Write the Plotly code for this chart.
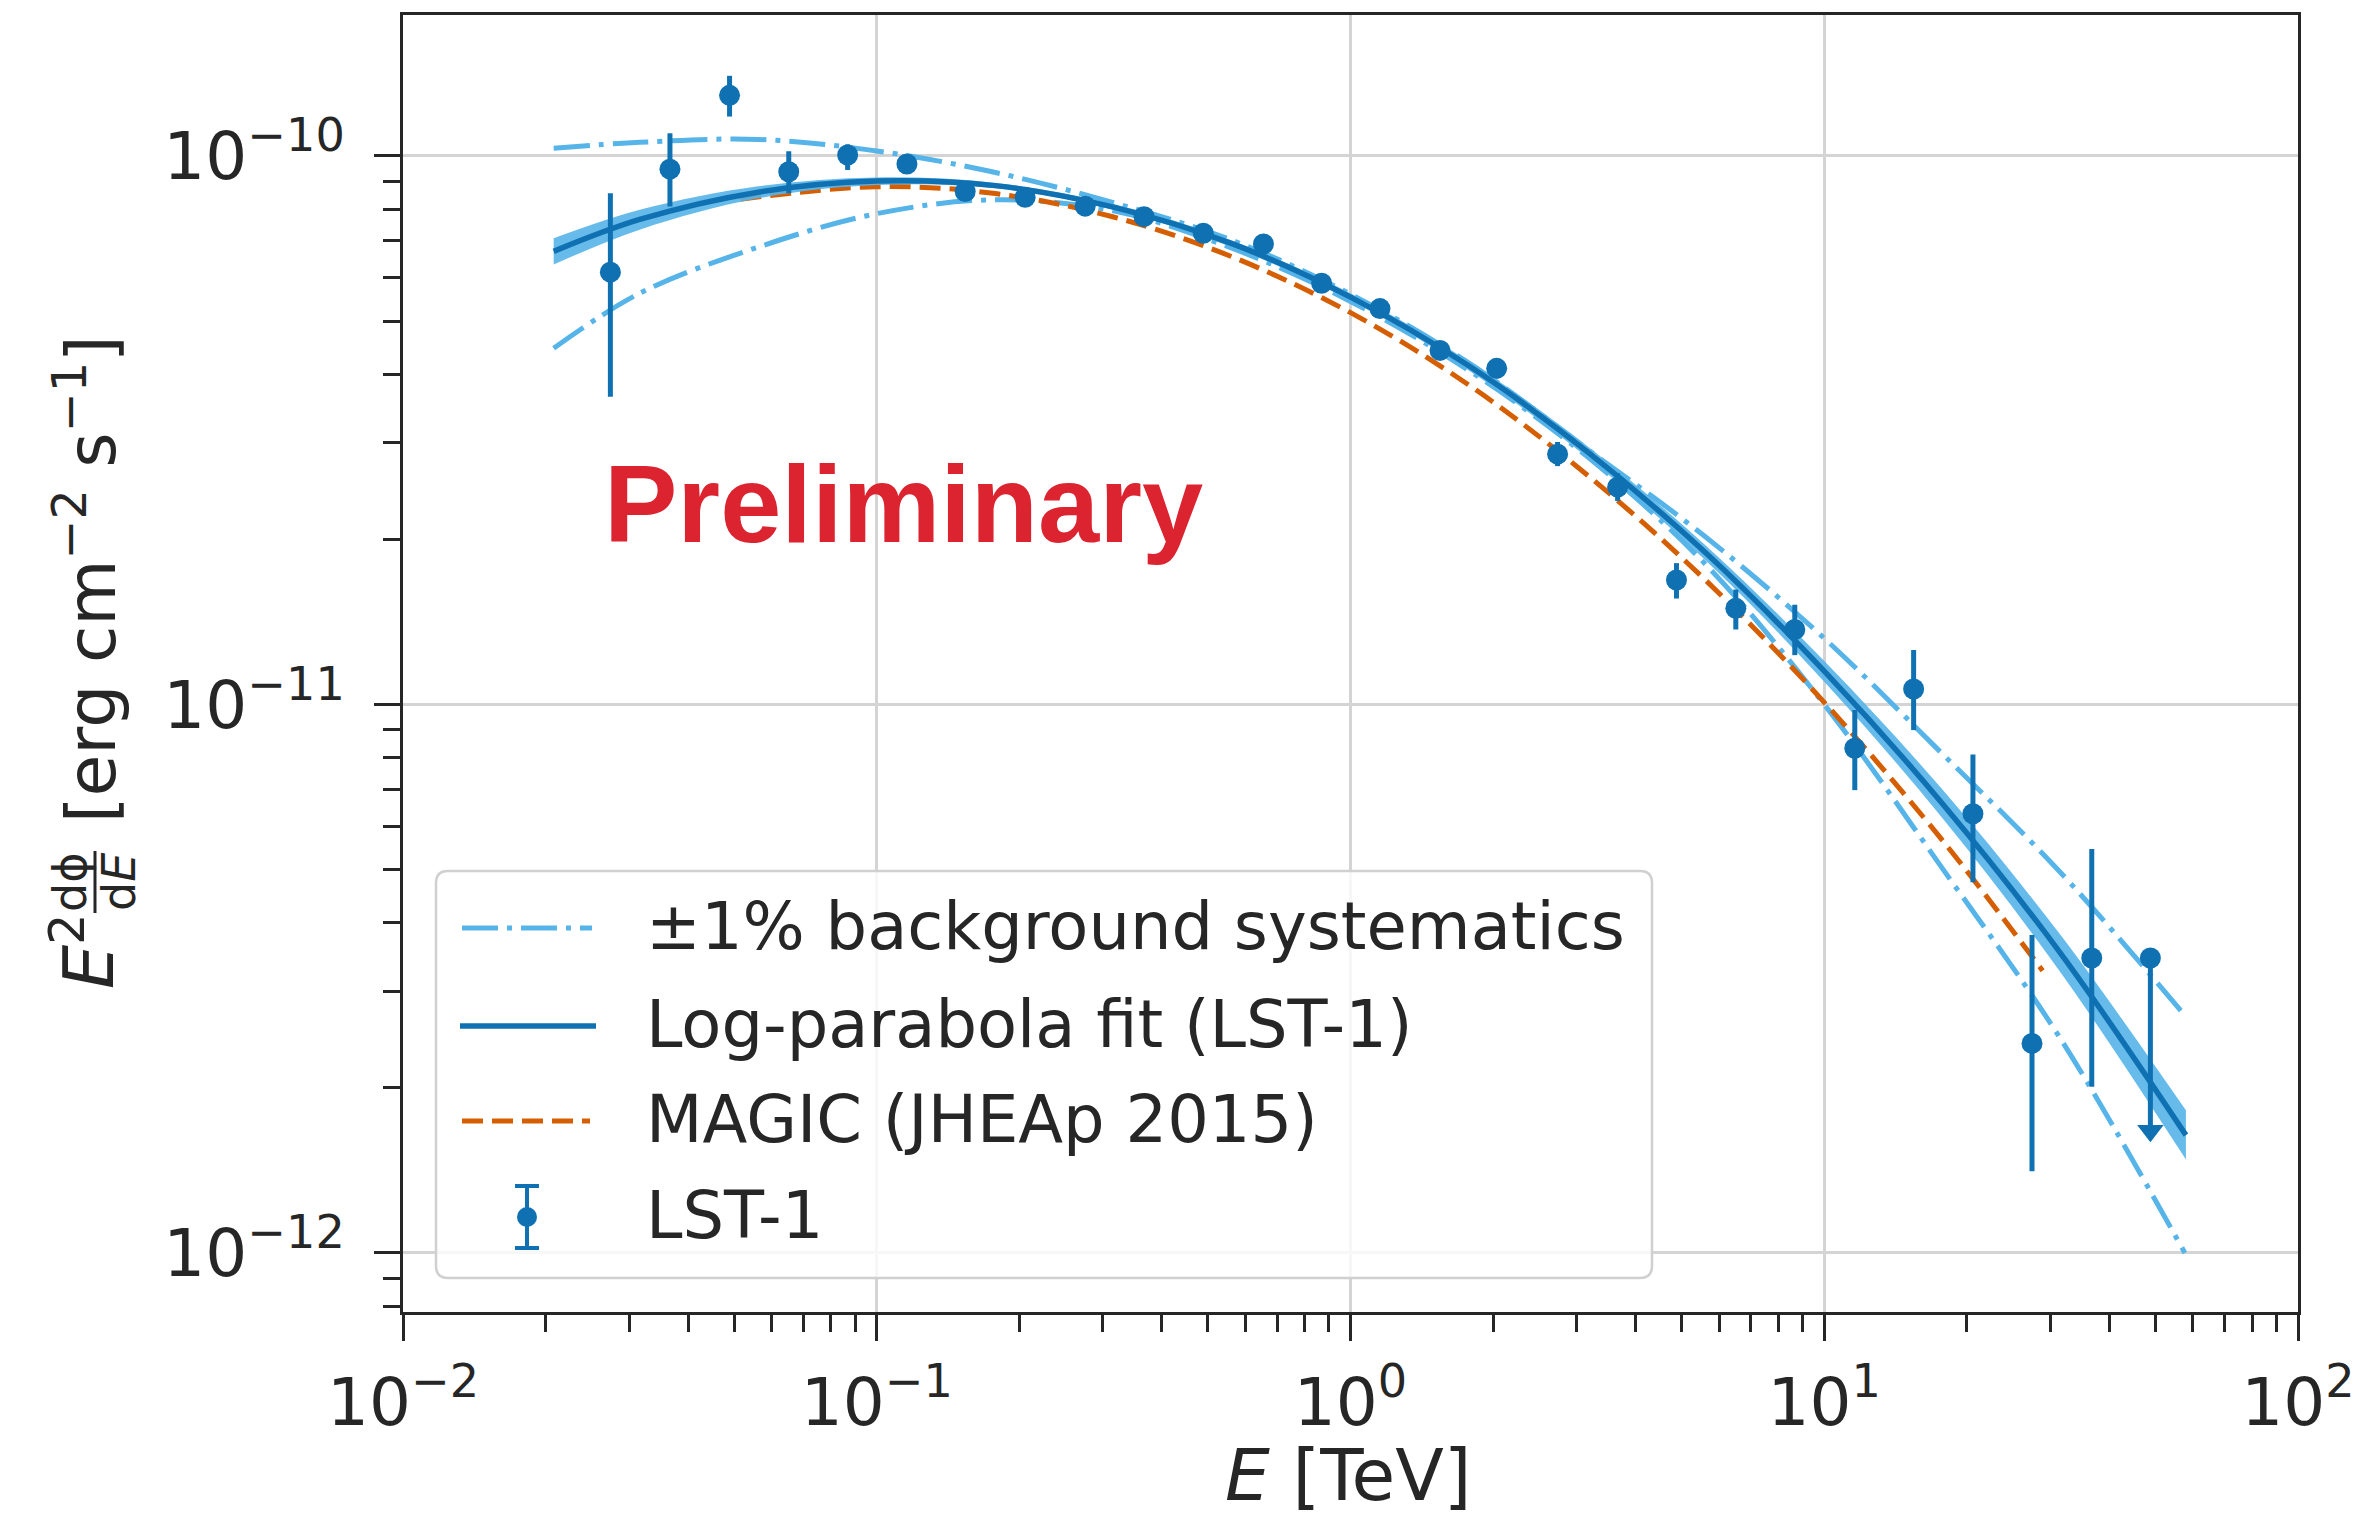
import plotly.graph_objects as go

# ---------------- data ----------------
# LST-1 flux points: energy [TeV], E^2 dN/dE [erg cm^-2 s^-1]
energy = [0.0274, 0.0366, 0.0489, 0.0652, 0.0868, 0.1158, 0.1537, 0.2057, 0.2754,
          0.3666, 0.489, 0.655, 0.869, 1.154, 1.545, 2.035, 2.736, 3.663, 4.876,
          6.506, 8.666, 11.6, 15.44, 20.6, 27.45, 36.7]
flux = [6.14e-11, 9.46e-11, 1.29e-10, 9.36e-11, 1.004e-10, 9.67e-11, 8.61e-11, 8.41e-11,
        8.10e-11, 7.75e-11, 7.23e-11, 6.91e-11, 5.86e-11, 5.27e-11, 4.42e-11, 4.10e-11,
        2.86e-11, 2.49e-11, 1.686e-11, 1.497e-11, 1.37e-11, 8.32e-12, 1.067e-11,
        6.32e-12, 2.41e-12, 3.45e-12]
flux_lo = [3.64e-11, 8.09e-11, 1.18e-10, 8.55e-11, 9.43e-11, 9.35e-11, 8.35e-11, 8.18e-11,
           7.88e-11, 7.53e-11, 7.02e-11, 6.68e-11, 5.66e-11, 5.08e-11, 4.25e-11, 3.93e-11,
           2.72e-11, 2.35e-11, 1.56e-11, 1.37e-11, 1.23e-11, 6.98e-12, 8.98e-12,
           4.74e-12, 1.41e-12, 2.01e-12]
flux_hi = [8.55e-11, 1.10e-10, 1.40e-10, 1.02e-10, 1.05e-10, 1.00e-10, 8.88e-11, 8.65e-11,
           8.33e-11, 7.97e-11, 7.45e-11, 7.15e-11, 6.07e-11, 5.47e-11, 4.60e-11, 4.28e-11,
           3.01e-11, 2.64e-11, 1.81e-11, 1.62e-11, 1.52e-11, 9.77e-12, 1.257e-11,
           8.11e-12, 3.80e-12, 5.45e-12]

# upper limit
ul_energy = [48.8]
ul_flux = [3.45e-12]
ul_arrow = [1.67e-12]

# Log-parabola fit (LST-1) and its band
fit_energy = [0.0208, 0.0316, 0.0562, 0.1, 0.178, 0.316, 0.562, 1.0, 1.78, 3.16,
              5.62, 10.0, 17.8, 31.6, 58.0]
fit_flux = [6.70e-11, 7.66e-11, 8.59e-11, 9.00e-11, 8.83e-11, 8.07e-11, 6.92e-11,
            5.53e-11, 4.14e-11, 2.89e-11, 1.89e-11, 1.15e-11, 6.58e-12, 3.51e-12, 1.64e-12]
fit_band_hi = [7.08e-11, 7.98e-11, 8.81e-11, 9.14e-11, 8.93e-11, 8.17e-11, 7.01e-11,
               5.62e-11, 4.22e-11, 2.96e-11, 1.95e-11, 1.20e-11, 6.98e-12, 3.79e-12, 1.82e-12]
fit_band_lo = [6.34e-11, 7.34e-11, 8.37e-11, 8.85e-11, 8.73e-11, 7.98e-11, 6.82e-11,
               5.45e-11, 4.06e-11, 2.82e-11, 1.83e-11, 1.10e-11, 6.19e-12, 3.24e-12, 1.48e-12]

# +-1% background systematics
bkg_energy = [0.0208, 0.0316, 0.0562, 0.1, 0.178, 0.316, 0.562, 1.0, 1.78, 3.16,
              5.62, 10.0, 17.8, 31.6, 57.7]
bkg_upper = [1.033e-10, 1.059e-10, 1.072e-10, 1.021e-10, 9.33e-11, 8.22e-11, 7.02e-11,
             5.60e-11, 4.19e-11, 2.92e-11, 2.02e-11, 1.32e-11, 8.11e-12, 4.93e-12, 2.71e-12]
bkg_lower = [4.46e-11, 5.62e-11, 6.82e-11, 7.85e-11, 8.32e-11, 7.94e-11, 6.79e-11,
             5.43e-11, 4.06e-11, 2.83e-11, 1.80e-11, 1.00e-11, 5.01e-12, 2.45e-12, 1.00e-12]

# MAGIC (JHEAp 2015)
magic_energy = [0.0515, 0.1, 0.178, 0.316, 0.562, 1.0, 1.78, 3.16, 5.62, 10.0, 17.8, 28.9]
magic_flux = [8.34e-11, 8.79e-11, 8.54e-11, 7.74e-11, 6.55e-11, 5.18e-11, 3.82e-11,
              2.62e-11, 1.684e-11, 1.009e-11, 5.64e-12, 3.27e-12]

x_tickvals = [0.01, 0.1, 1, 10, 100]
x_ticktext = ["10<sup>\u22122</sup>", "10<sup>\u22121</sup>", "10<sup>0</sup>",
              "10<sup>1</sup>", "10<sup>2</sup>"]
y_tickvals = [1e-12, 1e-11, 1e-10]
y_ticktext = ["10<sup>\u221212</sup>", "10<sup>\u221211</sup>", "10<sup>\u221210</sup>"]

legend_labels = ["\u00b11% background systematics", "Log-parabola fit (LST-1)",
                 "MAGIC (JHEAp 2015)", "LST-1"]

# ---------------- style ----------------
DARK = "#0f71b2"
LIGHT = "#56b4e9"
ORANGE = "#d55e00"
RED = "#dc2430"
TXT = "#262626"
FONT = "DejaVu Sans"

W, H = 2357, 1519
L, R, T, B = 403, 59, 15, 207
PW, PH = W - L - R, H - T - B


def px_x(X):
    return (X - L) / PW


def px_y(Y):
    return (H - B - Y) / PH


DASHDOT = "36px,9px,5px,9px"
DASHED = "21px,9px"
DD_W = 5

fig = go.Figure()

fig.add_trace(go.Scatter(x=bkg_energy, y=bkg_upper, mode="lines",
                         line=dict(color=LIGHT, width=DD_W, dash=DASHDOT, shape="spline"),
                         showlegend=False, hoverinfo="skip"))
fig.add_trace(go.Scatter(x=bkg_energy, y=bkg_lower, mode="lines",
                         line=dict(color=LIGHT, width=DD_W, dash=DASHDOT, shape="spline"),
                         showlegend=False, hoverinfo="skip"))
fig.add_trace(go.Scatter(x=magic_energy, y=magic_flux, mode="lines",
                         line=dict(color=ORANGE, width=5, dash=DASHED, shape="spline"),
                         showlegend=False))
fig.add_trace(go.Scatter(x=fit_energy, y=fit_band_lo, mode="lines",
                         line=dict(color=LIGHT, width=0, shape="spline"),
                         showlegend=False, hoverinfo="skip"))
fig.add_trace(go.Scatter(x=fit_energy, y=fit_band_hi, mode="lines",
                         line=dict(color=LIGHT, width=0, shape="spline"),
                         fill="tonexty", fillcolor="rgba(86,180,233,0.9)",
                         showlegend=False, hoverinfo="skip"))
fig.add_trace(go.Scatter(x=fit_energy, y=fit_flux, mode="lines",
                         line=dict(color=DARK, width=5.5, shape="spline"),
                         showlegend=False))

err_plus = [h - f for h, f in zip(flux_hi, flux)]
err_minus = [f - lo for f, lo in zip(flux, flux_lo)]
fig.add_trace(go.Scatter(x=energy, y=flux, mode="markers",
                         marker=dict(color=DARK, size=21, symbol="circle"),
                         error_y=dict(type="data", symmetric=False, array=err_plus,
                                      arrayminus=err_minus, color=DARK, thickness=5, width=0),
                         showlegend=False))
ul_minus = [f - a for f, a in zip(ul_flux, ul_arrow)]
fig.add_trace(go.Scatter(x=ul_energy, y=ul_flux, mode="markers",
                         marker=dict(color=DARK, size=21, symbol="circle"),
                         error_y=dict(type="data", symmetric=False, array=[0],
                                      arrayminus=ul_minus, color=DARK, thickness=5, width=0),
                         showlegend=False))
fig.add_trace(go.Scatter(x=ul_energy, y=ul_arrow, mode="markers",
                         marker=dict(color=DARK, size=23, symbol="triangle-down"),
                         showlegend=False))

axis_common = dict(
    type="log", showline=True, linewidth=3, linecolor=TXT, mirror=True,
    ticks="outside", ticklen=26, tickwidth=3, tickcolor=TXT,
    showgrid=True, gridcolor="#d4d4d4", gridwidth=2.5, zeroline=False,
    automargin=False,
    tickfont=dict(family=FONT, size=66, color=TXT),
    minor=dict(ticks="outside", ticklen=17, tickwidth=2.5, tickcolor=TXT,
               dtick="D1", showgrid=False),
)

fig.update_layout(
    width=W, height=H,
    margin=dict(l=L, r=R, t=T, b=B, pad=0, autoexpand=False),
    paper_bgcolor="white", plot_bgcolor="white",
    xaxis=dict(range=[-2, 2], tickvals=x_tickvals, ticktext=x_ticktext,
               ticklabelstandoff=5, **axis_common),
    yaxis=dict(range=[-12.1076, -9.743], tickvals=y_tickvals, ticktext=y_ticktext,
               ticklabelstandoff=16, **axis_common),
    showlegend=False,
)

shapes = []
annotations = []

# ---- legend (drawn manually) ----
bx0, bx1, by0, by1 = 436, 1652, 871, 1278
rad = 12
rx, ry = rad / PW, rad / PH
X0, X1 = px_x(bx0), px_x(bx1)
Y0, Y1 = px_y(by1), px_y(by0)  # bottom, top in paper
path = (f"M {X0 + rx} {Y1} L {X1 - rx} {Y1} Q {X1} {Y1} {X1} {Y1 - ry} "
        f"L {X1} {Y0 + ry} Q {X1} {Y0} {X1 - rx} {Y0} L {X0 + rx} {Y0} "
        f"Q {X0} {Y0} {X0} {Y0 + ry} L {X0} {Y1 - ry} Q {X0} {Y1} {X0 + rx} {Y1} Z")
shapes.append(dict(type="path", path=path, xref="paper", yref="paper",
                   line=dict(color="#d0d0d0", width=2.5),
                   fillcolor="rgba(255,255,255,0.8)", layer="above"))

row_y = [928, 1026, 1121, 1217]
# dash-dot sample
shapes.append(dict(type="line", xref="paper", yref="paper",
                   x0=px_x(462), x1=px_x(592), y0=px_y(row_y[0]), y1=px_y(row_y[0]),
                   line=dict(color=LIGHT, width=DD_W, dash=DASHDOT), layer="above"))
# solid sample
shapes.append(dict(type="line", xref="paper", yref="paper",
                   x0=px_x(460), x1=px_x(596), y0=px_y(row_y[1]), y1=px_y(row_y[1]),
                   line=dict(color=DARK, width=5.5), layer="above"))
# dashed sample
shapes.append(dict(type="line", xref="paper", yref="paper",
                   x0=px_x(462), x1=px_x(590), y0=px_y(row_y[2]), y1=px_y(row_y[2]),
                   line=dict(color=ORANGE, width=5, dash=DASHED), layer="above"))
# error bar sample
cx = 527
shapes.append(dict(type="line", xref="paper", yref="paper",
                   x0=px_x(cx), x1=px_x(cx), y0=px_y(1186), y1=px_y(1248),
                   line=dict(color=DARK, width=4), layer="above"))
for cy in (1186, 1248):
    shapes.append(dict(type="line", xref="paper", yref="paper",
                       x0=px_x(cx - 12), x1=px_x(cx + 12), y0=px_y(cy), y1=px_y(cy),
                       line=dict(color=DARK, width=4), layer="above"))
shapes.append(dict(type="circle", xref="paper", yref="paper",
                   x0=px_x(cx - 10), x1=px_x(cx + 10), y0=px_y(row_y[3] + 10),
                   y1=px_y(row_y[3] - 10), fillcolor=DARK, line=dict(color=DARK, width=0),
                   layer="above"))

for lab, ry_ in zip(legend_labels, row_y):
    annotations.append(dict(text=lab, xref="paper", yref="paper", x=px_x(644), y=px_y(ry_ - 2),
                            xanchor="left", yanchor="middle", showarrow=False,
                            font=dict(family=FONT, size=65.5, color=TXT)))

# ---- Preliminary ----
annotations.append(dict(text="<b>Preliminary</b>", xref="paper", yref="paper",
                        x=px_x(903), y=px_y(503), xanchor="center", yanchor="middle",
                        showarrow=False,
                        font=dict(family="Liberation Sans", size=110, color=RED)))

# ---- x axis title ----
annotations.append(dict(text="<i>E</i> [TeV]", xref="paper", yref="paper",
                        x=px_x(1348), y=px_y(1475), xanchor="center", yanchor="middle",
                        showarrow=False, font=dict(family=FONT, size=71, color=TXT)))

# ---- y axis title (E^2 dphi/dE [erg cm^-2 s^-1]) ----
annotations.append(dict(text="<i>E</i><sup>2</sup>", xref="paper", yref="paper",
                        x=px_x(84), y=px_y(952), textangle=-90, xanchor="center",
                        yanchor="middle", showarrow=False,
                        font=dict(family=FONT, size=70, color=TXT)))
annotations.append(dict(text="d\u03d5", xref="paper", yref="paper",
                        x=px_x(70), y=px_y(882), textangle=-90, xanchor="center",
                        yanchor="middle", showarrow=False,
                        font=dict(family=FONT, size=46, color=TXT)))
annotations.append(dict(text="d<i>E</i>", xref="paper", yref="paper",
                        x=px_x(119), y=px_y(882), textangle=-90, xanchor="center",
                        yanchor="middle", showarrow=False,
                        font=dict(family=FONT, size=46, color=TXT)))
shapes.append(dict(type="line", xref="paper", yref="paper",
                   x0=px_x(95), x1=px_x(95), y0=px_y(851), y1=px_y(913),
                   line=dict(color=TXT, width=3)))
annotations.append(dict(text="[erg cm<sup>\u22122</sup> s<sup>\u22121</sup>]",
                        xref="paper", yref="paper", x=px_x(86), y=px_y(580),
                        textangle=-90, xanchor="center", yanchor="middle",
                        showarrow=False, font=dict(family=FONT, size=68, color=TXT)))

fig.update_layout(shapes=shapes, annotations=annotations)

fig.write_html("out.html")
